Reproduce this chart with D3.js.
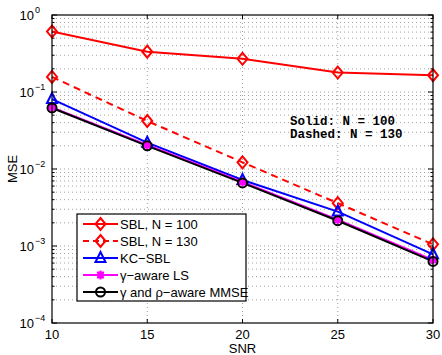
<!DOCTYPE html>
<html><head><meta charset="utf-8">
<script src="https://cdn.jsdelivr.net/npm/d3@7"></script>
<style>body{margin:0;background:#fff}svg{display:block}</style>
</head><body>
<script>
const snr = [10, 15, 20, 25, 30];
const sbl100 = [0.61, 0.334, 0.27, 0.179, 0.165];
const sbl130 = [0.157, 0.042, 0.0122, 0.0036, 0.00105];
const kcsbl = [0.081, 0.022, 0.0072, 0.0028, 0.00078];
const gammaLS = [0.063, 0.0205, 0.0068, 0.0022, 0.00066];
const mmse = [0.062, 0.020, 0.0066, 0.00213, 0.00063];
const xTicks = [10, 15, 20, 25, 30];
const yExps = [0, -1, -2, -3, -4];
const legendLabels = ["SBL, N = 100", "SBL, N = 130", "KC\u2212SBL", "\u03b3\u2212aware LS", "\u03b3 and \u03c1\u2212aware MMSE"];
const annot = ["Solid: N = 100", "Dashed: N = 130"];

const W = 442, H = 355;
const m = {l: 52, r: 9, t: 15, b: 32};
const svg = d3.select("body").append("svg").attr("width", W).attr("height", H);
const x = d3.scaleLinear().domain([10, 30]).range([m.l, W - m.r]);
const y = d3.scaleLog().domain([1e-4, 1]).range([H - m.b, m.t]);
const font = "Liberation Sans, Arial, sans-serif";

// grid
const g = svg.append("g");
const minor = [];
for (let e = -4; e < 0; e++) for (let k = 1; k <= 9; k++) minor.push(k * Math.pow(10, e));
g.selectAll(".hy").data(minor.filter(v => v > 1e-4)).enter().append("line")
  .attr("x1", m.l).attr("x2", W - m.r).attr("y1", d => y(d)).attr("y2", d => y(d))
  .attr("stroke", "#888").attr("stroke-width", 0.8).attr("stroke-dasharray", "1,3");
g.selectAll(".vx").data(xTicks.slice(1, -1)).enter().append("line")
  .attr("x1", d => x(d)).attr("x2", d => x(d)).attr("y1", m.t).attr("y2", H - m.b)
  .attr("stroke", "#888").attr("stroke-width", 0.8).attr("stroke-dasharray", "1,3");

// ticks
const tk = svg.append("g").attr("stroke", "#000").attr("stroke-width", 1);
xTicks.forEach(v => {
  tk.append("line").attr("x1", x(v)).attr("x2", x(v)).attr("y1", H - m.b).attr("y2", H - m.b - 4);
  tk.append("line").attr("x1", x(v)).attr("x2", x(v)).attr("y1", m.t).attr("y2", m.t + 4);
});
minor.concat([1]).forEach(v => {
  const lg10 = Math.log10(v);
  const len = Math.abs(lg10 - Math.round(lg10)) < 1e-9 ? 5 : 2.5;
  tk.append("line").attr("x1", m.l).attr("x2", m.l + len).attr("y1", y(v)).attr("y2", y(v));
  tk.append("line").attr("x1", W - m.r).attr("x2", W - m.r - len).attr("y1", y(v)).attr("y2", y(v));
});

// series
const series = [
  {v: sbl100, c: "#ff0000", dash: null, mk: "diamond"},
  {v: sbl130, c: "#ff0000", dash: "7,5", mk: "diamond"},
  {v: kcsbl, c: "#0000ff", dash: null, mk: "triangle"},
  {v: gammaLS, c: "#ff00ff", dash: null, mk: "star"},
  {v: mmse, c: "#000000", dash: null, mk: "circle"}
];
const line = d3.line().x(d => x(d[0])).y(d => y(d[1]));

function marker(sel, type, c, cx, cy) {
  if (type === "diamond") {
    sel.append("path").attr("d", `M${cx},${cy-6}L${cx+5},${cy}L${cx},${cy+6}L${cx-5},${cy}Z`)
      .attr("fill", "none").attr("stroke", c).attr("stroke-width", 2);
  } else if (type === "triangle") {
    sel.append("path").attr("d", `M${cx},${cy-6}L${cx+5},${cy+4}L${cx-5},${cy+4}Z`)
      .attr("fill", "none").attr("stroke", c).attr("stroke-width", 2);
  } else if (type === "circle") {
    sel.append("circle").attr("cx", cx).attr("cy", cy).attr("r", 4.5)
      .attr("fill", "none").attr("stroke", c).attr("stroke-width", 2);
  } else if (type === "star") {
    const r = 4.5;
    let d = "";
    for (let a = 0; a < 4; a++) {
      const t = a * Math.PI / 4;
      d += `M${cx - r*Math.cos(t)},${cy - r*Math.sin(t)}L${cx + r*Math.cos(t)},${cy + r*Math.sin(t)}`;
    }
    sel.append("path").attr("d", d).attr("stroke", c).attr("stroke-width", 2).attr("fill", "none");
    sel.append("circle").attr("cx", cx).attr("cy", cy).attr("r", 3.5).attr("fill", c);
  }
}

const sg = svg.append("g");
series.forEach(s => {
  const pts = snr.map((v, i) => [v, s.v[i]]);
  sg.append("path").attr("d", line(pts)).attr("fill", "none").attr("stroke", s.c)
    .attr("stroke-width", 2).attr("stroke-dasharray", s.dash);
});
series.forEach(s => {
  snr.forEach((v, i) => marker(sg, s.mk, s.c, x(v), y(s.v[i])));
});

// box
svg.append("rect").attr("x", m.l).attr("y", m.t).attr("width", W - m.r - m.l).attr("height", H - m.b - m.t)
  .attr("fill", "none").attr("stroke", "#000").attr("stroke-width", 1.2);

// tick labels
xTicks.forEach(v => {
  svg.append("text").attr("x", x(v)).attr("y", H - m.b + 16).attr("text-anchor", "middle")
    .attr("font-family", font).attr("font-size", 13).text(v);
});
yExps.forEach(e => {
  svg.append("text").attr("x", m.l - 18).attr("y", y(Math.pow(10, e)) + 5).attr("text-anchor", "end")
    .attr("font-family", font).attr("font-size", 13).text("10");
  svg.append("text").attr("x", m.l - 17).attr("y", y(Math.pow(10, e)) - 2)
    .attr("font-family", font).attr("font-size", 9).text(e === 0 ? "0" : "\u2212" + (-e));
});

// axis labels
svg.append("text").attr("x", (m.l + W - m.r) / 2).attr("y", H - 2).attr("text-anchor", "middle")
  .attr("font-family", font).attr("font-size", 13).text("SNR");
svg.append("text").attr("transform", `translate(17,${(m.t + H - m.b) / 2}) rotate(-90)`).attr("text-anchor", "middle")
  .attr("font-family", font).attr("font-size", 13).text("MSE");

// annotation
annot.forEach((t, i) => {
  svg.append("text").attr("x", 290).attr("y", 125 + i * 13).attr("font-family", "Liberation Mono, DejaVu Sans Mono, monospace")
    .attr("font-weight", "bold").attr("font-size", 12.5).style("white-space", "pre").text(t);
});

// legend
const lg = svg.append("g");
lg.append("rect").attr("x", 77).attr("y", 214).attr("width", 169).attr("height", 87)
  .attr("fill", "#fff").attr("stroke", "#000").attr("stroke-width", 1.2);
series.forEach((s, i) => {
  const ly = 224 + i * 17;
  lg.append("line").attr("x1", 83).attr("x2", 118).attr("y1", ly).attr("y2", ly)
    .attr("stroke", s.c).attr("stroke-width", 2).attr("stroke-dasharray", s.dash ? "6,4" : null);
  marker(lg, s.mk, s.c, 100.5, ly);
  lg.append("text").attr("x", 120).attr("y", ly + 5).attr("font-family", font).attr("font-size", 13).text(legendLabels[i]);
});
</script>
</body></html>
